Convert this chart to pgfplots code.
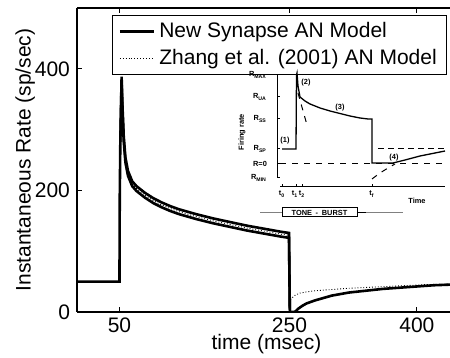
\documentclass[border=0pt]{standalone}
\usepackage{fontspec}
\setmainfont{Liberation Sans}
\usepackage{pgfplots}
\pgfplotsset{compat=1.18}
\newcommand{\mf}{\fontsize{10.5}{12}\selectfont}
\newcommand{\insetfont}{\fontsize{3.7}{4}\selectfont\bfseries}
\begin{document}
\begin{tikzpicture}
\useasboundingbox (-38.5pt,-23pt) rectangle (186.5pt,156pt);
\clip (-38.5pt,-23pt) rectangle (186.5pt,156pt);
\begin{axis}[
  at={(0pt,0pt)}, anchor=south west,
  scale only axis, width=186.5pt, height=152pt,
  xmin=0, xmax=439, ymin=0, ymax=500,
  axis x line=box, axis y line*=left,
  xtick={50,250,400}, ytick={0,200,400},
  xtick pos=both,
  tick align=inside, major tick length=2.5pt,
  axis line style={line width=0.6pt},
  tick style={line width=0.6pt, black},
  /pgf/number format/assume math mode=true,
  tick label style={font=\mf},
  xticklabel style={inner ysep=0.5pt, yshift=-2.2pt},
  every axis x label/.style={at={(axis description cs:0.508,-0.104)},anchor=center, inner sep=0pt},
  every axis y label/.style={at={(axis description cs:-0.139,0.5)},rotate=90,anchor=center},
  label style={font=\mf},
  xlabel={time (msec)},
  ylabel={Instantaneous Rate (sp/sec)},
  legend style={at={(axis description cs:0.0938,0.978)}, anchor=north west,
    draw=black, line width=0.6pt, font=\mf, inner ysep=1.5pt, row sep=0.5pt},
  legend cell align=left,
]
\addplot[black, line width=1.3pt] coordinates {
(0,50) (50,50) (50.3,185) (51,280) (52.5,379) (53.5,331) (55,281) (57,246) (60,224)
(65,207) (70,199) (80,188) (90,179) (100,172) (110,166) (120,161) (140,153) (160,146)
(180,140) (200,134) (220,129) (240,124) (249.5,122) (250.5,0) (256,0) (258,2) (260,5)
(265,10) (270,14) (280,19) (290,23) (300,27) (320,32) (340,35) (360,38) (380,40)
(400,42) (420,44) (439,45)};
\addlegendentry{New Synapse AN Model}
\addplot[black, densely dotted, line width=0.45pt] coordinates {
(0,50) (50,50) (50.3,185) (51,280) (52.5,383) (53.5,335) (55,285) (57,250) (60,228)
(65,211) (70,203) (80,192) (90,183) (100,176) (110,170) (120,165) (140,157) (160,150)
(180,144) (200,138) (220,133) (240,128) (249.5,126) (250.3,18) (252,22) (256,27)
(262,31) (270,33) (280,35) (300,37) (320,39) (350,41) (380,43) (410,45) (439,46)};
\addlegendentry{Zhang et al. (2001) AN Model}
\addplot[black, line width=1.3pt, forget plot] coordinates {
(51,280) (52.5,387) (53.5,339) (55,289) (57,254) (60,232) (65,215) (70,207) (80,196)
(90,187) (100,180) (110,174) (120,169) (140,161) (160,154) (180,148) (200,142)
(220,137) (240,132) (249.5,130) (250.5,3)};
\end{axis}
\begin{axis}[
  at={(79pt,44.5pt)}, anchor=south west,
  scale only axis, width=105pt, height=75pt,
  xmin=-45, xmax=165, ymin=-45, ymax=105,
  hide axis, clip=false,
]
% solid model response
\addplot[black, line width=0.65pt] coordinates {
(2,29) (16,29) (16.5,103) (17,105) (18,92) (20,81) (25,77) (30,74) (40,70) (50,67)
(60,64.5) (70,62) (80,60) (88,59) (92,59) (92,15) (113,15) (125,18) (140,22)
(155,25) (165,27)};
% dashed curves
\addplot[black, dashed, line width=0.5pt] coordinates {(18,85) (27,53)};
\addplot[black, dashed, line width=0.5pt] coordinates {(0,14) (165,14)};
\addplot[black, dashed, line width=0.5pt] coordinates {(92,-1) (100,5) (108,10) (115,14)};
\addplot[black, densely dashed, line width=0.5pt] coordinates {(98,29) (165,29)};
% inset axes
\draw[line width=0.5pt] (axis cs:-3,0) -- (axis cs:-3,103);
\draw[line width=0.5pt] (axis cs:-3,0) -- (axis cs:0,0);
\draw[line width=0.5pt] (axis cs:-3,14) -- (axis cs:0,14);
\draw[line width=0.5pt] (axis cs:-3,29) -- (axis cs:0,29);
\draw[line width=0.5pt] (axis cs:-3,59) -- (axis cs:0,59);
\draw[line width=0.5pt] (axis cs:-3,81) -- (axis cs:0,81);
\draw[line width=0.5pt] (axis cs:-3,103) -- (axis cs:0,103);
\draw[line width=0.5pt] (axis cs:0,-9) -- (axis cs:165,-9);
\draw[line width=0.5pt] (axis cs:2,-9) -- (axis cs:2,-6);
\draw[line width=0.5pt] (axis cs:16,-9) -- (axis cs:16,-6);
\draw[line width=0.5pt] (axis cs:22,-9) -- (axis cs:22,-6);
\draw[line width=0.5pt] (axis cs:92,-9) -- (axis cs:92,-6);
\node[anchor=east, font=\insetfont] at (axis cs:-6,103) {R\textsubscript{MAX}};
\node[anchor=east, font=\insetfont] at (axis cs:-6,81) {R\textsubscript{UA}};
\node[anchor=east, font=\insetfont] at (axis cs:-6,59) {R\textsubscript{SS}};
\node[anchor=east, font=\insetfont] at (axis cs:-6,29) {R\textsubscript{SP}};
\node[anchor=east, font=\insetfont] at (axis cs:-6,14) {R=0};
\node[anchor=east, font=\insetfont] at (axis cs:-6,0) {R\textsubscript{MIN}};
\node[font=\insetfont] at (axis cs:2,-16) {t\textsubscript{0}};
\node[font=\insetfont] at (axis cs:15,-16) {t\textsubscript{1}};
\node[font=\insetfont] at (axis cs:22,-16) {t\textsubscript{2}};
\node[font=\insetfont] at (axis cs:92,-16) {t\textsubscript{f}};
\node[font=\insetfont] at (axis cs:137,-23) {Time};
\node[font=\insetfont, rotate=90] at (axis cs:-38,46) {Firing rate};
\node[font=\insetfont] at (axis cs:5,37) {(1)};
\node[font=\insetfont] at (axis cs:26,95) {(2)};
\node[font=\insetfont] at (axis cs:60,70) {(3)};
\node[font=\insetfont] at (axis cs:114,20) {(4)};
\draw[gray, line width=0.5pt] (axis cs:-20,-34.5) -- (axis cs:2,-34.5);
\draw[gray, line width=0.5pt] (axis cs:77,-34.5) -- (axis cs:123,-34.5);
\draw[black, line width=0.5pt] (axis cs:77,-34.5) -- (axis cs:86,-34.5);
\draw[black, line width=0.5pt] (axis cs:2,-30) rectangle (axis cs:77,-39);
\node[font=\insetfont] at (axis cs:39.5,-34.5) {TONE\enspace-\enspace BURST};
\end{axis}
\end{tikzpicture}
\end{document}
